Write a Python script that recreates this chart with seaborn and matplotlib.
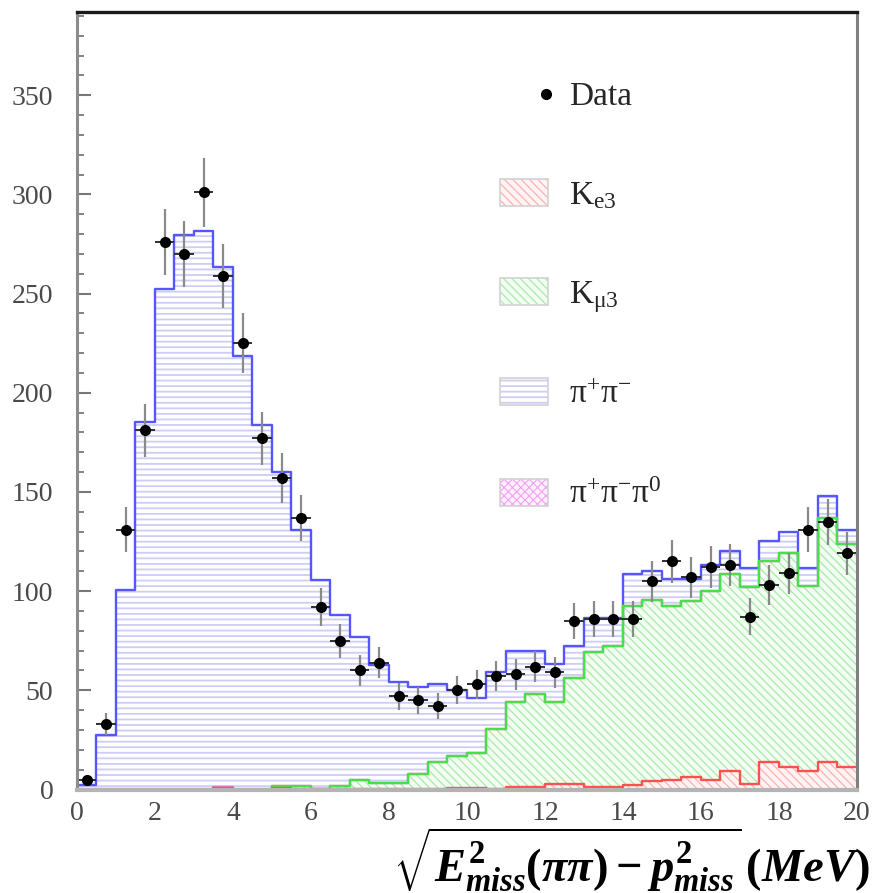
import numpy as np
import pandas as pd
import matplotlib
matplotlib.use("Agg")
import matplotlib.pyplot as plt
from matplotlib.patches import Rectangle
from matplotlib.ticker import MultipleLocator
import seaborn as sns

# Histogram binning of the missing mass (MeV)
bin_edges = [float(v) for v in np.arange(0.0, 20.0 + 0.25, 0.5)]
bin_centers = 0.5 * (np.array(bin_edges[:-1]) + np.array(bin_edges[1:]))

# Observed events per bin
data_counts = [5, 33, 131, 181, 276, 270, 301, 259, 225, 177,
               157, 137, 92, 75, 60, 64, 47, 45, 42, 50,
               53, 57, 58, 62, 59, 85, 86, 86, 86, 105,
               115, 107, 112, 113, 87, 103, 109, 131, 135, 119]

# Simulated contributions per bin
ke3 = [0, 0, 0, 0, 0, 0, 0, 0.8, 0, 0,
       0.8, 0.3, 0.5, 0.3, 0.5, 0.5, 0.5, 0.5, 0.5, 1,
       1, 0.5, 1.2, 1.2, 3, 3, 1.5, 1.5, 2.5, 4.5,
       5, 6.5, 5, 9.5, 3, 14, 11.5, 9.5, 14, 11.5]
kmu3 = [0, 0, 0, 0, 0, 0, 0, 0, 0, 0,
        1.2, 1.7, 0, 1.7, 4.5, 3, 3, 7.5, 13.5, 16,
        17.5, 30, 42.8, 46.8, 41, 53, 68, 71, 90, 91,
        87.5, 88.5, 95, 99, 99, 101, 107.5, 93, 123, 112.5]
pi3 = [0.4, 0.4, 0.4, 0.4, 0.4, 0.4, 0.4, 0.4, 0.4, 0.4,
       0, 0, 0, 0, 0, 0, 0, 0, 0, 0,
       0, 0, 0, 0, 0, 0, 0, 0, 0, 0,
       0, 0, 0, 0, 0, 0, 0, 0, 0, 0]
pipi = [2, 27, 100, 185, 252, 279, 281, 262, 218, 183.5,
        158, 129, 105, 86, 72, 59.5, 50.5, 43.5, 39, 33,
        27.5, 28.5, 26, 22, 19.5, 16.5, 17, 14, 16, 14.5,
        13.5, 11, 13, 11.5, 9.5, 10.5, 11, 9, 11, 7]

legend_labels = ["Data", r"K$_{\mathrm{e3}}$", r"K$_{\mathrm{\mu3}}$",
                 r"$\mathrm{\pi}^{+}\mathrm{\pi}^{-}$",
                 r"$\mathrm{\pi}^{+}\mathrm{\pi}^{-}\mathrm{\pi}^{0}$"]

sns.set_theme(style="ticks")
plt.rcParams.update({
    "font.family": ["Liberation Serif", "DejaVu Serif"],
    "mathtext.fontset": "custom",
    "mathtext.rm": "Liberation Serif",
    "mathtext.it": "Liberation Serif:italic:bold",
    "mathtext.bf": "Liberation Serif:bold",
    "hatch.linewidth": 1.0,
})

# Stack: Ke3 at the bottom, then Kmu3, pi+pi-pi0, pi+pi-
stack = pd.DataFrame({"x": bin_centers, "ke3": ke3, "kmu3": kmu3,
                      "pi3": pi3, "pipi": pipi})
stack["c_ke3"] = stack["ke3"]
stack["c_kmu3"] = stack["c_ke3"] + stack["kmu3"]
stack["c_pi3"] = stack["c_kmu3"] + stack["pi3"]
stack["c_pipi"] = stack["c_pi3"] + stack["pipi"]

styles = {
    # column: (hatch, hatch colour, face colour, outline colour, hatch lw)
    "c_pipi": ("---", "#cdcdf6", "white", "#5656ff", 1.3),
    "c_pi3": ("xxxx", "#f4a0f4", "#fff0ff", "#ee66ee", 0.8),
    "c_kmu3": ("\\\\\\\\", "#a6eca6", "#f3fdf3", "#48e048", 0.9),
    "c_ke3": ("\\\\\\\\", "#ffb0b0", "#fff4f4", "#ff5050", 0.9),
}

fig = plt.figure(figsize=(8.75, 8.93), dpi=100)
ax = fig.add_axes([0.088, 0.1159, 0.8914, 0.8707])

for col in ["c_pipi", "c_pi3", "c_kmu3", "c_ke3"]:
    hatch, hcol, face, _, hlw = styles[col]
    with plt.rc_context({"hatch.linewidth": hlw}):
        sns.histplot(data=stack, x="x", weights=col, bins=bin_edges,
                     element="step", fill=True, facecolor=face,
                     edgecolor=hcol, linewidth=0, hatch=hatch, alpha=1,
                     ax=ax)

for col in ["c_pipi", "c_pi3", "c_kmu3", "c_ke3"]:
    line_col = styles[col][3]
    sns.histplot(data=stack, x="x", weights=col, bins=bin_edges,
                 element="step", fill=False, color=line_col,
                 linewidth=1.7, ax=ax)

# Data points with Poisson errors
counts = np.asarray(data_counts, dtype=float)
ax.errorbar(bin_centers, counts, yerr=np.sqrt(counts), fmt="none",
            ecolor="#8a8a8a", elinewidth=1.6, capsize=0, zorder=5)
ax.errorbar(bin_centers, counts, xerr=0.25, fmt="none",
            ecolor="#303030", elinewidth=1.4, capsize=0, zorder=5)
sns.scatterplot(x=bin_centers, y=counts, color="black", s=64,
                edgecolor="black", linewidth=0, zorder=6, ax=ax)

ax.set_xlim(0, 20)
ax.set_ylim(0, 392)
ax.set_xlabel("")
ax.set_ylabel("")

ax.xaxis.set_major_locator(MultipleLocator(2))
ax.xaxis.set_minor_locator(MultipleLocator(0.5))
ax.yaxis.set_major_locator(MultipleLocator(50))
ax.yaxis.set_minor_locator(MultipleLocator(10))
ax.tick_params(axis="both", which="both", direction="in", color="#777777",
               top=False, right=False, labelsize=20, labelcolor="#4a4a4a")
ax.tick_params(axis="both", which="major", length=10, width=1.5)
ax.tick_params(axis="both", which="minor", length=5, width=1.3)
ax.tick_params(axis="y", which="major", pad=17)
ax.tick_params(axis="x", which="major", pad=8)

ax.spines["left"].set(color="#8c8c8c", linewidth=2.2)
ax.spines["bottom"].set(color="#b4b4b4", linewidth=3)
ax.spines["top"].set(color="#1a1a1a", linewidth=2.4)
ax.spines["right"].set(color="#808080", linewidth=2.2)
for sp in ax.spines.values():
    sp.set_zorder(7)

# Legend entries
rows = [0.8945, 0.7672, 0.6399, 0.5113, 0.3826]
box_x, box_w, box_h = 0.5423, 0.0615, 0.0347
text_x = 0.6308
base_off = 11 / 777.5
ax.plot([0.601], [rows[0]], "o", color="black", ms=7,
        transform=ax.transAxes, clip_on=False, zorder=8)
for row, col in zip(rows[1:], ["c_ke3", "c_kmu3", "c_pipi", "c_pi3"]):
    hatch, hcol, face, _, hlw = styles[col]
    with plt.rc_context({"hatch.linewidth": hlw}):
        ax.add_patch(Rectangle((box_x, row - box_h / 2), box_w, box_h,
                               transform=ax.transAxes, facecolor=face,
                               edgecolor=hcol, linewidth=0, hatch=hatch,
                               zorder=8))
    ax.add_patch(Rectangle((box_x, row - box_h / 2), box_w, box_h,
                           transform=ax.transAxes, facecolor="none",
                           edgecolor="#d2d2d2", linewidth=1.2, zorder=9))
for row, lab in zip(rows, legend_labels):
    ax.text(text_x, row - base_off, lab, transform=ax.transAxes,
            ha="left", va="baseline", fontsize=24, color="#262626",
            zorder=9)

fig.text(870 / 875, 1 - 881 / 893,
         r"$\sqrt{E^{\mathbf{2}}_{miss}\mathbf{(}\pi\pi\mathbf{)}\:\mathbf{-}\:"
         r"p^{\mathbf{2}}_{miss}}\,\mathbf{(}MeV\mathbf{)}$",
         ha="right", va="baseline", fontsize=33.5, color="black")

fig.savefig("out.png", dpi=100, facecolor="white")
